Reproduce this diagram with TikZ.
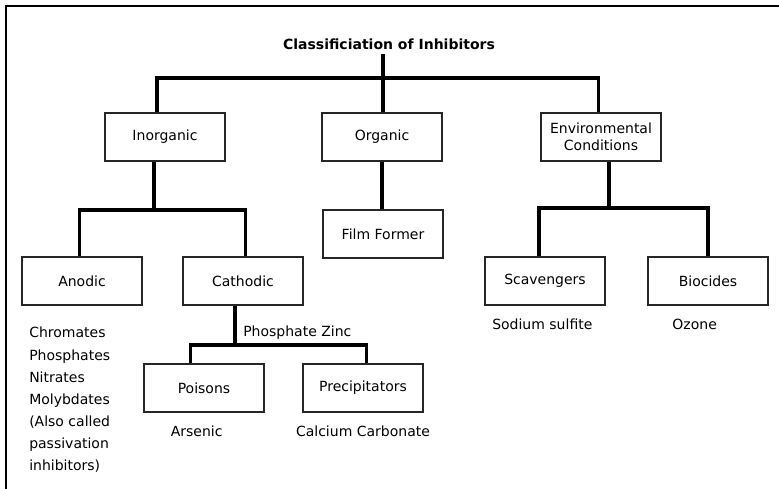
\documentclass[tikz,border=0pt]{standalone}
\usepackage{fontspec}
\setmainfont{DejaVu Sans}
\usetikzlibrary{positioning}
\tikzset{x=0.75pt, y=-0.75pt, node distance = 10pt}

\begin{document}
\begin{tikzpicture}[box/.style ={rectangle, draw=black!85, line width=1pt, fill=white, minimum width=90pt, minimum height=36pt, text centered, font=\fontsize{10.5}{13}\selectfont}, link/.style={line width=2.7pt},
note/.style={inner sep=0pt, font=\fontsize{10.5}{16.6}\selectfont}]
    \useasboundingbox (0,0) rectangle (779,489);
    \draw[line width=1.5pt] (6,489) -- (6,6) -- (779,6);

    \node[font=\bfseries\fontsize{10.5}{13}\selectfont] (title) at (389,44) {Classificiation of Inhibitors};
    \node[box] (inorg) at (165,137) {Inorganic};
    \node[box] (org) at (382,137) {Organic};
    \node[box, align=center] (env) at (601,137) {Environmental\\Conditions};
    \node[box] (film) at (383,234) {Film Former};
    \node[box] (anodic) at (82,281) {Anodic};
    \node[box] (cath) at (243,281) {Cathodic};
    \node[box] (scav) at (545,281) {Scavengers};
    \node[box] (bio) at (708,281) {Biocides};
    \node[box] (pois) at (204,388) {Poisons};
    \node[box] (precip) at (363,388) {Precipitators};

    \node[note, anchor=north west, align=left] (anlist) at (29,327) {Chromates\\Phosphates\\Nitrates\\Molybdates\\(Also called\\passivation\\inhibitors)};
    \node[note, anchor=west] (zinc) at (243,333) {Phosphate Zinc};
    \node[note, below=10pt of pois, xshift=-5.5pt] (arsenic) {Arsenic};
    \node[note, below=10pt of precip] (calcium) {Calcium Carbonate};
    \node[note, below=10pt of scav, xshift=-2pt] (sulfite) {Sodium sulfite};
    \node[note, below=10pt of bio, xshift=-10pt] (ozone) {Ozone};

    \coordinate (top) at (383,78);
    \coordinate (left) at (154,210);
    \coordinate (right) at (609,208);
    \coordinate (low) at (235,345);

    \draw[link] (title.south -| top) -- (top |- org.north);
    \draw[link] ([xshift=-6pt]inorg.north) |- (top) -| ([xshift=-2pt]env.north);
    \draw[link] (inorg.south -| left) -- (left);
    \draw[link] ([xshift=-2pt]anodic.north) |- (left) -| ([xshift=2pt]cath.north);
    \draw[link] (org.south) -- (org.south |- film.north);
    \draw[link] (env.south -| right) -- (right);
    \draw[link] ([xshift=-4.5pt]scav.north) |- (right) -| (bio.north);
    \draw[link] (cath.south -| low) -- (low);
    \draw[link] ([xshift=-10pt]pois.north) |- (low) -| ([xshift=2.5pt]precip.north);
\end{tikzpicture}
\end{document}
